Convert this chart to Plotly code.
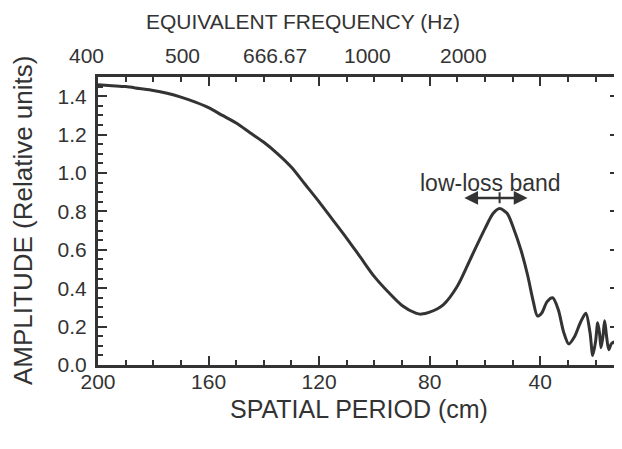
import plotly.graph_objects as go

# ---- data ----
period_cm = [200, 195, 190, 185, 180, 175, 170, 165, 160, 155, 150, 145, 140, 135,
             130, 125, 120, 115, 110, 105, 100, 95, 90, 85, 83, 80, 75, 70, 65, 60,
             57, 54.7, 52, 49.6, 47, 44.6, 42.5, 41, 39.5, 37.5, 35.5, 33.5, 31.5,
             29.7, 27.5, 25.5, 23.5, 22, 21, 20, 19.2, 18.5, 18, 17.3, 16.7, 16,
             15.2, 14.3, 13.4, 12.5, 11.6]
amplitude = [1.46, 1.455, 1.45, 1.44, 1.43, 1.415, 1.395, 1.37, 1.34, 1.30, 1.26,
             1.21, 1.16, 1.10, 1.03, 0.94, 0.85, 0.755, 0.66, 0.56, 0.46, 0.38,
             0.31, 0.27, 0.265, 0.275, 0.315, 0.41, 0.56, 0.71, 0.79, 0.815, 0.79,
             0.71, 0.60, 0.47, 0.33, 0.255, 0.27, 0.33, 0.35, 0.29, 0.17, 0.11,
             0.15, 0.22, 0.27, 0.17, 0.05, 0.12, 0.22, 0.16, 0.09, 0.15, 0.23, 0.15,
             0.08, 0.11, 0.12, 0.10, 0.09]

bottom_ticks = [200, 160, 120, 80, 40]
y_ticks = [0, 0.2, 0.4, 0.6, 0.8, 1.0, 1.2, 1.4]
freq_labels = ["400", "500", "666.67", "1000", "2000"]

# ---- layout positions (not data) ----
freq_label_period = [204, 169.6, 135.9, 102.5, 67.8]   # where the top labels sit (period units)
band_text = "low-loss band"
band_start = 68
band_end = 44.6
band_center = 54.7
band_level = 0.87
band_label_x = 58
band_label_y = 0.95

X_RANGE = [200, 11.5]
Y_RANGE = [0, 1.5]

INK = "#333333"
FONT = "Liberation Sans, Arial, Helvetica, sans-serif"

fig = go.Figure()
fig.add_trace(go.Scatter(
    x=period_cm, y=amplitude, mode="lines",
    line=dict(color=INK, width=3, shape="spline", smoothing=0.8),
    hoverinfo="skip", showlegend=False))

# double-headed band arrow
fig.add_annotation(x=band_end, y=band_level, ax=band_start, ay=band_level,
                   xref="x", yref="y", axref="x", ayref="y", text="",
                   showarrow=True, arrowhead=2, arrowside="end+start",
                   arrowsize=1.1, arrowwidth=2.5, arrowcolor=INK)
fig.add_annotation(x=band_center, y=band_level + 0.03, ax=band_center, ay=band_level - 0.035,
                   xref="x", yref="y", axref="x", ayref="y", text="",
                   showarrow=True, arrowhead=0, arrowwidth=2, arrowcolor=INK)
fig.add_annotation(x=band_label_x, y=band_label_y, xref="x", yref="y",
                   text=band_text, showarrow=False, xanchor="center", yanchor="middle",
                   font=dict(family=FONT, size=23, color=INK))


def to_paper(p):
    return (X_RANGE[0] - p) / (X_RANGE[0] - X_RANGE[1])


# top (frequency) labels
for lab, p in zip(freq_labels, freq_label_period):
    fig.add_annotation(x=to_paper(p), y=1.0, xref="paper", yref="paper",
                       text=lab, showarrow=False, xanchor="center", yanchor="middle",
                       yshift=22, font=dict(family=FONT, size=21, color=INK))

# axis titles
fig.add_annotation(x=0.393, y=1.0, xref="paper", yref="paper",
                   text="EQUIVALENT FREQUENCY (Hz)", showarrow=False,
                   xanchor="center", yanchor="middle", yshift=56,
                   font=dict(family=FONT, size=21, color=INK))
fig.add_annotation(x=0.5, y=0.0, xref="paper", yref="paper",
                   text="SPATIAL PERIOD (cm)", showarrow=False,
                   xanchor="center", yanchor="middle", yshift=-44,
                   font=dict(family=FONT, size=25, color=INK))
fig.add_annotation(x=0.0, y=0.5, xref="paper", yref="paper",
                   text="AMPLITUDE (Relative units)", showarrow=False, textangle=-90,
                   xanchor="center", yanchor="middle", xshift=-75,
                   font=dict(family=FONT, size=26, color=INK))

axis_common = dict(
    showline=True, linewidth=3, linecolor=INK, mirror="allticks",
    ticks="inside", tickcolor=INK, tickwidth=2, showgrid=False, zeroline=False,
    tickfont=dict(family=FONT, size=21, color=INK), automargin=False,
)

fig.update_xaxes(range=X_RANGE, tickvals=bottom_ticks, ticklen=9, ticklabelstandoff=-4,
                 minor=dict(dtick=10, ticks="inside", ticklen=5, tickwidth=2,
                            tickcolor=INK, showgrid=False),
                 **axis_common)
fig.update_yaxes(range=Y_RANGE, tickvals=y_ticks, tickformat=".1f", ticklen=9,
                 ticklabelstandoff=4,
                 minor=dict(dtick=0.05, ticks="inside", ticklen=5, tickwidth=2,
                            tickcolor=INK, showgrid=False),
                 **axis_common)

# the page body adds an 8px offset; size the figure so the plot lands where the reference has it
fig.update_layout(width=614, height=441,
                  margin=dict(l=90, r=3, t=69, b=84, autoexpand=False),
                  plot_bgcolor="white", paper_bgcolor="white",
                  font=dict(family=FONT, color=INK))

fig.write_html("out.html")
